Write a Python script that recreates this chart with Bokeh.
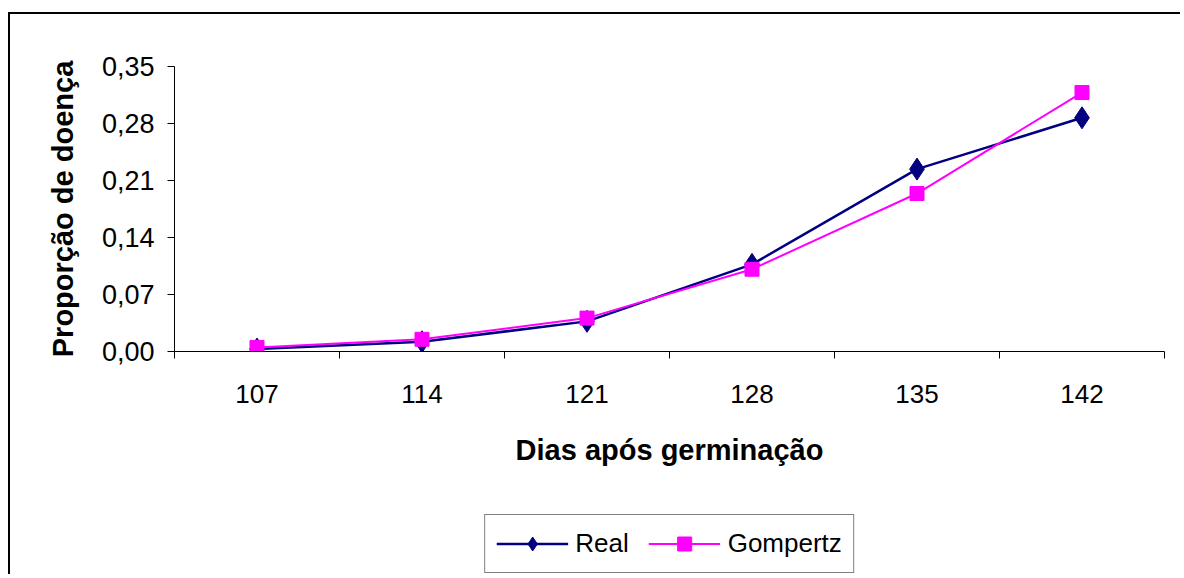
from bokeh.plotting import figure
from bokeh.layouts import column
from bokeh.models import (FixedTicker, Range1d, Legend, LegendItem, ColumnDataSource)
from bokeh.embed import file_html
from bokeh.resources import INLINE

# ---- data ----
days = ["107", "114", "121", "128", "135", "142"]
real = [0.003, 0.012, 0.037, 0.107, 0.224, 0.287]
gompertz = [0.005, 0.015, 0.041, 0.101, 0.194, 0.318]
y_ticks = [0.0, 0.07, 0.14, 0.21, 0.28, 0.35]
x_title = "Dias após germinação"
y_title = "Proporção de doença"
series_names = ["Real", "Gompertz"]

FONT = "Liberation Sans"
navy = "#000080"
magenta = "#FF00FF"

xpos = [i + 0.5 for i in range(len(days))]
src = ColumnDataSource(dict(x=xpos, real=real, gompertz=gompertz))

# ---- main chart ----
p = figure(width=1170, height=480, output_backend="svg", toolbar_location=None,
           x_range=Range1d(0, len(days)), y_range=Range1d(y_ticks[0], y_ticks[-1]),
           min_border_left=164, min_border_top=52, min_border_right=16,
           min_border_bottom=143)
p.outline_line_color = None
p.xgrid.visible = False
p.ygrid.visible = False
p.background_fill_color = "white"
p.border_fill_color = "white"

xa = p.xaxis[0]
xa.ticker = FixedTicker(ticks=xpos, minor_ticks=list(range(len(days) + 1)))
xa.major_label_overrides = {x: d for x, d in zip(xpos, days)}
xa.major_tick_out = 0
xa.major_tick_in = 0
xa.minor_tick_out = 7
xa.minor_tick_in = 0
xa.minor_tick_line_color = "black"
xa.axis_line_color = "black"
xa.major_label_standoff = 26
xa.major_label_text_font = FONT
xa.major_label_text_font_size = "26px"
xa.major_label_text_color = "black"
xa.axis_label = x_title
xa.axis_label_text_font = FONT
xa.axis_label_text_font_style = "bold"
xa.axis_label_text_font_size = "29px"
xa.axis_label_text_color = "black"
xa.axis_label_standoff = 28

ya = p.yaxis[0]
ya.ticker = FixedTicker(ticks=y_ticks, minor_ticks=[])
ya.major_label_overrides = {t: f"{t:.2f}".replace(".", ",") for t in y_ticks}
ya.major_tick_out = 7
ya.major_tick_in = 0
ya.minor_tick_out = 0
ya.axis_line_color = "black"
ya.major_tick_line_color = "black"
ya.major_label_standoff = 13
ya.major_label_text_font = FONT
ya.major_label_text_font_size = "27px"
ya.major_label_text_color = "black"
ya.axis_label = y_title
ya.axis_label_text_font = FONT
ya.axis_label_text_font_style = "bold"
ya.axis_label_text_font_size = "29px"
ya.axis_label_text_color = "black"
ya.axis_label_standoff = 20

p.line("x", "real", source=src, line_color=navy, line_width=2.5)
p.scatter("x", "real", source=src, marker="diamond", size=22,
          fill_color=navy, line_color=navy)
p.line("x", "gompertz", source=src, line_color=magenta, line_width=2)
p.scatter("x", "gompertz", source=src, marker="square", size=14,
          fill_color=magenta, line_color=magenta)

# ---- legend strip (same series styling, data kept out of view) ----
p2 = figure(width=1170, height=80, output_backend="svg", toolbar_location=None,
            x_axis_location=None, y_axis_location=None,
            x_range=Range1d(100, 101), y_range=Range1d(100, 101),
            min_border_left=164, min_border_top=20, min_border_right=16,
            min_border_bottom=0)
p2.outline_line_color = None
p2.xgrid.visible = False
p2.ygrid.visible = False
p2.background_fill_color = "white"
p2.border_fill_color = "white"

l1 = p2.line("x", "real", source=src, line_color=navy, line_width=2.5)
m1 = p2.scatter("x", "real", source=src, marker="diamond", size=22,
                fill_color=navy, line_color=navy)
l2 = p2.line("x", "gompertz", source=src, line_color=magenta, line_width=2)
m2 = p2.scatter("x", "gompertz", source=src, marker="square", size=14,
                fill_color=magenta, line_color=magenta)

legend = Legend(items=[LegendItem(label=series_names[0], renderers=[l1, m1]),
                       LegendItem(label=series_names[1], renderers=[l2, m2])],
                orientation="horizontal", location="top_center",
                glyph_width=72, glyph_height=35, label_standoff=7, spacing=20,
                padding=11, margin=0,
                label_text_font=FONT, label_text_font_size="26px",
                label_text_color="black",
                border_line_color="black", border_line_width=1,
                background_fill_color="white", background_fill_alpha=1)
p2.add_layout(legend, "center")

layout = column(p, p2, spacing=0)
layout.styles = {"margin-top": "12px", "margin-left": "8px",
                 "border-top": "2px solid black", "border-left": "2px solid black"}

open("out.html", "w").write(file_html(layout, INLINE))
